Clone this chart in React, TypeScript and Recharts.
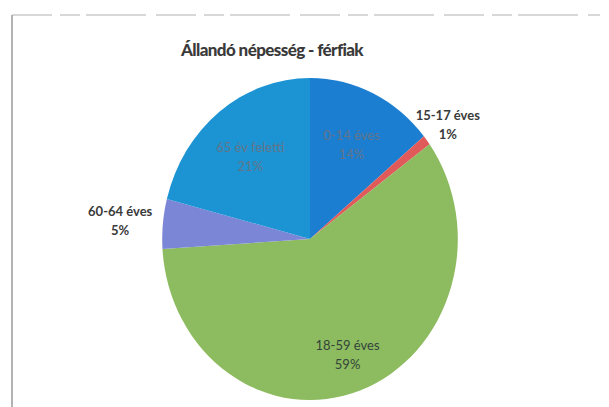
import React from "react";
import { PieChart, Pie, Cell, Sector } from "recharts";

const categories = ["0-14 éves", "15-17 éves", "18-59 éves", "60-64 éves", "65 év feletti"];
const values = [14, 1, 59, 5, 21];
const colors = ["#1c7ed0", "#e05a5a", "#8dbb5f", "#7c86d6", "#1c94d3"];

const data = categories.map((name, i) => ({ name, value: values[i] }));

const CX = 310;
const CY = 239;
const R = 161;
const SX = 0.918;

const RAD = Math.PI / 180;

const renderShape = (props: any) => {
  const { cx, cy } = props;
  return (
    <g transform={`translate(${cx},${cy}) scale(${SX},1) translate(${-cx},${-cy})`}>
      <Sector {...props} />
    </g>
  );
};

const renderLabel = (props: any) => {
  const { cx, cy, midAngle, outerRadius, percent, name } = props;
  const outside = percent < 0.06;
  const cosA = Math.cos(-midAngle * RAD);
  const factor = outside ? (cosA < 0 ? 1.29 : 1.18) : name === "18-59 éves" ? 0.75 : 0.66;
  const r = outerRadius * factor;
  const x = cx + r * cosA * SX;
  const y = cy + r * Math.sin(-midAngle * RAD);
  const pct = `${Math.round(percent * 100)}%`;
  const fill = outside ? "#3a3a3a" : name === "18-59 éves" ? "#34443a" : "#62748a";
  return (
    <text
      x={x}
      y={y}
      textAnchor="middle"
      fontFamily="Lato, 'Open Sans', sans-serif"
      fontSize={13}
      fontWeight={outside ? 700 : 400}
      fill={fill}
    >
      <tspan x={x} dy={-3}>{name}</tspan>
      <tspan x={x} dy={19}>{pct}</tspan>
    </text>
  );
};

export default function App() {
  return (
    <div style={{ position: "absolute", left: 0, top: 0, width: 609, height: 407, background: "#fff" }}>
      <svg width={609} height={407} style={{ position: "absolute", left: 0, top: 0 }}>
        <line x1={12} y1={15} x2={12} y2={407} stroke="#9a9a9a" strokeWidth={1.5} />
        <line x1={12} y1={15} x2={600} y2={15} stroke="#b0b0b0" strokeWidth={1} strokeDasharray="40 8 20 6 60 10" />
        <text
          x={272}
          y={56}
          textAnchor="middle"
          fontFamily="Lato, 'Open Sans', sans-serif"
          fontSize={17}
          fontWeight={900}
          letterSpacing={-0.6}
          fill="#3a3a3a"
        >
          Állandó népesség - férfiak
        </text>
      </svg>
      <div style={{ position: "absolute", left: 0, top: 0 }}>
        <PieChart width={609} height={407} margin={{ top: 0, right: 0, bottom: 0, left: 0 }}>
          <Pie
            data={data}
            dataKey="value"
            nameKey="name"
            cx={CX}
            cy={CY}
            outerRadius={R}
            startAngle={90}
            endAngle={-270}
            stroke="none"
            isAnimationActive={false}
            shape={renderShape}
            label={renderLabel}
            labelLine={false}
          >
            {data.map((d, i) => (
              <Cell key={d.name} fill={colors[i]} />
            ))}
          </Pie>
        </PieChart>
      </div>
    </div>
  );
}
